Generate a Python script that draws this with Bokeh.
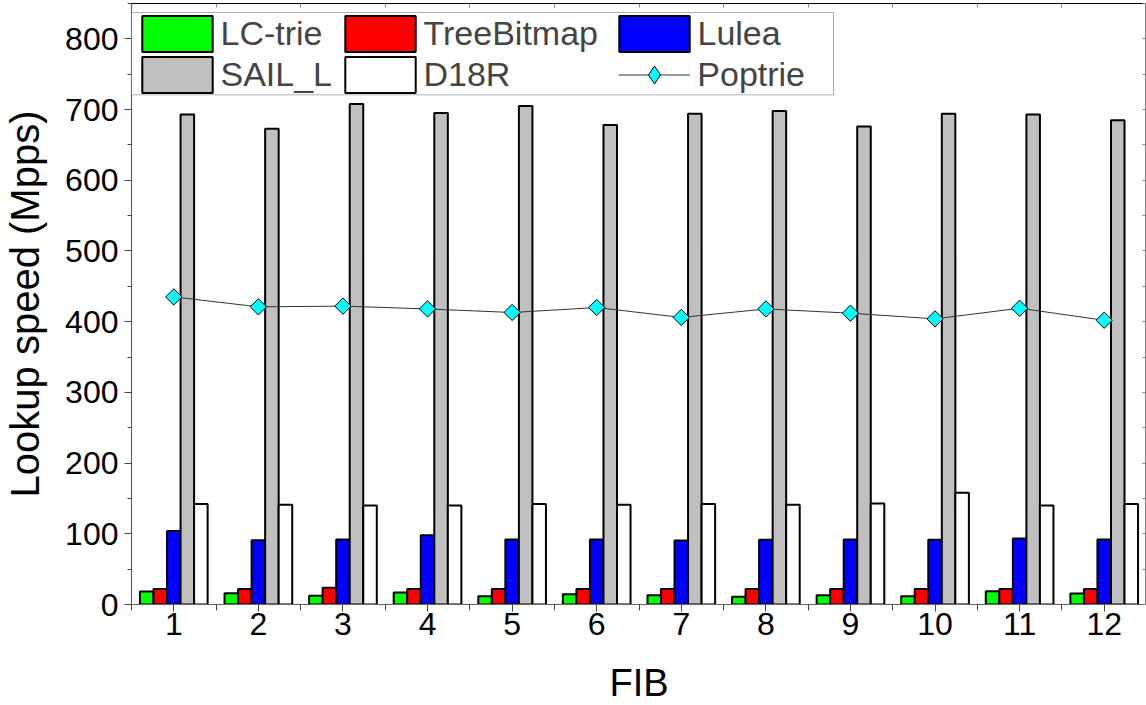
import numpy as np
from bokeh.plotting import figure
from bokeh.models import (ColumnDataSource, Legend, LegendItem, LinearAxis,
                          FixedTicker, Range1d, BoxAnnotation, CustomLabelingPolicy)
from bokeh.transform import dodge
from bokeh.embed import file_html
from bokeh.resources import INLINE

# ---- data ----
fib = [1, 2, 3, 4, 5, 6, 7, 8, 9, 10, 11, 12]
lc_trie = [18.4, 16.0, 12.2, 17.0, 11.8, 14.6, 13.0, 10.8, 13.0, 11.8, 18.8, 15.5]
tree_bitmap = [22, 22, 23.6, 22, 22, 22, 22, 22, 22, 22, 22, 22]
lulea = [104, 91, 92, 98, 92, 92, 90.5, 91.4, 92, 91.4, 93.3, 92]
sail_l = [693, 673, 708, 695, 705, 678, 694, 698, 676, 694, 693, 685]
d18r = [142, 141, 140, 140, 142, 141, 142, 141, 143, 158, 140, 142]
poptrie = [435, 421, 422, 418, 413, 420, 406, 418, 412, 404, 419, 402]

y_ticks = [0, 100, 200, 300, 400, 500, 600, 700, 800]
y_minor = list(range(0, 851, 50))
x_minor = [0.5 + i for i in range(13)]

src = ColumnDataSource(dict(fib=fib, lc=lc_trie, tb=tree_bitmap, lu=lulea,
                            sail=sail_l, d18=d18r, pop=poptrie))

FONT = "Liberation Sans"

p = figure(frame_width=1015, frame_height=601,
           min_border_left=129, min_border_right=2, min_border_top=3, min_border_bottom=101,
           x_range=Range1d(0.5, 12.5), y_range=Range1d(0, 850),
           output_backend="svg", toolbar_location=None,
           x_axis_label="FIB", y_axis_label="Lookup speed (Mpps)")
p.xgrid.visible = False
p.ygrid.visible = False
p.outline_line_color = None
p.background_fill_color = "white"
p.border_fill_color = "white"

# left / bottom axes
for ax in (p.xaxis[0], p.yaxis[0]):
    ax.axis_line_color = "#666666"
    ax.axis_line_width = 1.2
    ax.major_tick_line_color = "#444444"
    ax.minor_tick_line_color = "#444444"
    ax.major_tick_in = 0
    ax.minor_tick_in = 0
    ax.major_label_text_font = FONT
    ax.major_label_text_font_size = "32px"
    ax.major_label_text_color = "black"
    ax.axis_label_text_font = FONT
    ax.axis_label_text_font_style = "normal"
    ax.axis_label_text_color = "black"

p.xaxis.ticker = FixedTicker(ticks=fib, minor_ticks=x_minor)
p.xaxis.major_tick_out = 7
p.xaxis.minor_tick_out = 6
p.xaxis.major_label_standoff = 1
p.xaxis.axis_label_text_font_size = "38px"
p.xaxis.axis_label_standoff = 24

p.yaxis.ticker = FixedTicker(ticks=y_ticks, minor_ticks=y_minor)
p.yaxis.major_tick_out = 7
p.yaxis.minor_tick_out = 4
p.yaxis.major_label_standoff = 6
p.yaxis.axis_label_text_font_size = "40px"
p.yaxis.axis_label_standoff = 15

# top / right frame axes (ticks inside, no labels)
no_labels = CustomLabelingPolicy(code="return []")
top = LinearAxis(ticker=FixedTicker(ticks=x_minor, minor_ticks=[]))
right = LinearAxis(ticker=FixedTicker(ticks=y_minor, minor_ticks=[]))
for ax, w in ((top, 1.2), (right, 2)):
    ax.axis_line_color = "black"
    ax.axis_line_width = w
    ax.major_tick_in = 4
    ax.major_tick_out = 0
    ax.minor_tick_in = 0
    ax.minor_tick_out = 0
    ax.major_tick_line_color = "#888888"
    ax.major_label_policy = no_labels
    ax.major_label_text_font_size = "0px"
    ax.major_label_standoff = 0
p.add_layout(top, "above")
p.add_layout(right, "right")

# bars
bw = 0.16
common = dict(source=src, width=bw, bottom=0, line_color="black", line_width=2)
r_lc = p.vbar(x=dodge("fib", -0.32, range=p.x_range), top="lc", fill_color="#00FF00", **common)
r_tb = p.vbar(x=dodge("fib", -0.16, range=p.x_range), top="tb", fill_color="#FF0000", **common)
r_lu = p.vbar(x=dodge("fib", 0.0, range=p.x_range), top="lu", fill_color="#0000FF", **common)
r_sa = p.vbar(x=dodge("fib", 0.16, range=p.x_range), top="sail", fill_color="#C0C0C0", **common)
r_d1 = p.vbar(x=dodge("fib", 0.32, range=p.x_range), top="d18", fill_color="#FFFFFF", **common)

# Poptrie line + markers
r_pl = p.line("fib", "pop", source=src, line_color="#333333", line_width=1)
# diamond key (used by the legend; fully covered by the square-diamond markers)
r_key = p.scatter("fib", "pop", source=src, marker="diamond", size=14,
                  fill_color="#00FFFF", line_color="black", line_width=1)
r_pm = p.scatter("fib", "pop", source=src, marker="square", angle=np.pi / 4, size=11.5,
                 fill_color="#00FFFF", line_color="black", line_width=1)

# legend frame
frame_box = BoxAnnotation(left=0, right=702, bottom=509.7, top=592,
                          left_units="screen", right_units="screen",
                          top_units="screen", bottom_units="screen",
                          fill_color="white", fill_alpha=1.0,
                          line_color="black", line_width=1)
p.add_layout(frame_box)

def make_legend(label, renderers, x, y, gw=88, standoff=0):
    leg = Legend(items=[LegendItem(label=label, renderers=renderers)],
                 location=(x, y), orientation="vertical",
                 glyph_width=gw, glyph_height=45, label_standoff=standoff, spacing=0,
                 padding=0, margin=0, border_line_alpha=0, background_fill_alpha=0,
                 label_text_font=FONT, label_text_font_size="34px", label_height=36)
    p.add_layout(leg)

ROW1, ROW2 = 548.2, 507.2
make_legend("LC-trie", [r_lc], 1.5, ROW1)
make_legend("SAIL_L", [r_sa], 1.5, ROW2)
make_legend("TreeBitmap", [r_tb], 204.5, ROW1)
make_legend("D18R", [r_d1], 204.5, ROW2)
make_legend("Lulea", [r_lu], 478.5, ROW1)
make_legend("Poptrie", [r_pl, r_key], 487.3, ROW2, gw=72, standoff=7)

open("out.html", "w").write(file_html(p, INLINE))
